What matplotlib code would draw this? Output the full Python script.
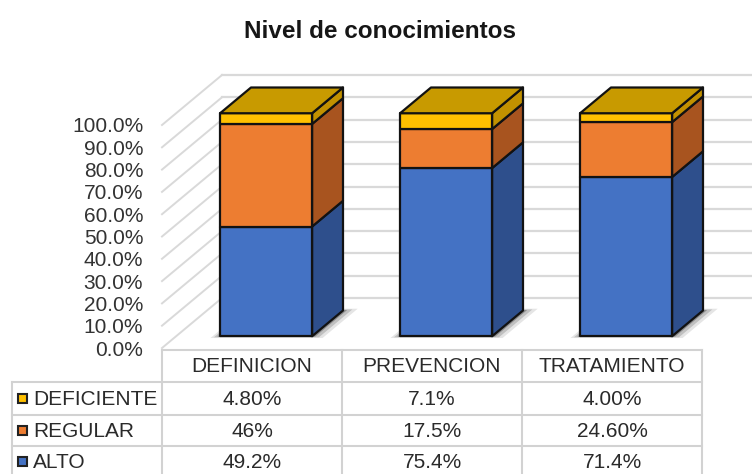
import matplotlib
matplotlib.use("Agg")
import matplotlib.pyplot as plt
from matplotlib.patches import Polygon, Rectangle
from matplotlib.lines import Line2D
from matplotlib.transforms import Affine2D

# ---------------- data ----------------
categories = ["DEFINICION", "PREVENCION", "TRATAMIENTO"]
alto = [49.2, 75.4, 71.4]
regular = [46.0, 17.5, 24.6]
deficiente = [4.8, 7.1, 4.0]
alto_labels = ["49.2%", "75.4%", "71.4%"]
regular_labels = ["46%", "17.5%", "24.60%"]
deficiente_labels = ["4.80%", "7.1%", "4.00%"]
y_ticks = [0, 10, 20, 30, 40, 50, 60, 70, 80, 90, 100]
y_tick_labels = ["0.0%", "10.0%", "20.0%", "30.0%", "40.0%", "50.0%",
                 "60.0%", "70.0%", "80.0%", "90.0%", "100.0%"]
title = "Nivel de conocimientos"

# ---------------- style ----------------
plt.rcParams['font.family'] = ['Liberation Sans', 'DejaVu Sans']
W, H = 752, 474
fig = plt.figure(figsize=(W / 100, H / 100), dpi=100)
fig.patch.set_facecolor("white")

FRONT = {"ALTO": "#4472C4", "REGULAR": "#ED7D31", "DEFICIENTE": "#FFC000"}
SIDE = {"ALTO": "#2E4F8C", "REGULAR": "#A8541F", "DEFICIENTE": "#C29100"}
TOP = {"ALTO": "#3A62A8", "REGULAR": "#C8662A", "DEFICIENTE": "#C89A00"}
EDGE = "#121212"
GRID = "#D9D9D9"
TXT = "#2A2A2A"
FS = 15

# front plane of the plot area (pixels)
L, R, T, B = 162, 702, 125, 348
ax = fig.add_axes([L / W, 1 - B / H, (R - L) / W, (B - T) / H])
ax.set_xlim(-0.5, 2.5)
ax.set_ylim(0, 100)
ax.patch.set_visible(False)
for s in ax.spines.values():
    s.set_visible(False)
ax.set_xticks([])
ax.set_yticks(y_ticks, y_tick_labels)
ax.tick_params(axis='y', length=0, pad=13.5, labelsize=FS, labelcolor="#333333")

# oblique depth vector (data units): full depth = 60 px right, 50 px up
px_per_cat = (R - L) / 3.0
px_per_pct = (B - T) / 100.0
DX = 60 / px_per_cat
DY = 50 / px_per_pct
Z0, Z1 = 0.235, 0.75
BW = 92 / px_per_cat


def proj(x, v, z):
    return (x + z * DX, v + z * DY)


# back wall gridlines and left wall diagonals
for t in y_ticks:
    p0 = proj(-0.5, t, 1)
    p1 = proj(2.6, t, 1)
    ax.add_line(Line2D([p0[0], p1[0]], [p0[1], p1[1]], color=GRID, lw=1.6,
                       clip_on=False, zorder=1))
    q0 = proj(-0.5, t, 0)
    ax.add_line(Line2D([q0[0], p0[0]], [q0[1], p0[1]], color=GRID, lw=1.4,
                       clip_on=False, zorder=1))

# shadows
for i in range(len(categories)):
    for ex, ez, a in [(0.07, 0.12, 0.10), (0.045, 0.07, 0.16), (0.02, 0.03, 0.28)]:
        xl, xr = i - BW / 2 - ex * 0.6, i + BW / 2 + ex
        za, zb = Z0 - ez * 0.3, Z1 + ez * 0.3
        pts = [proj(xl, 0, za), proj(xr, 0, za), proj(xr, 0, zb), proj(xl, 0, zb)]
        ax.add_patch(Polygon(pts, closed=True, facecolor="black", alpha=a,
                             edgecolor="none", clip_on=False, zorder=2))

# bars
for i in range(len(categories)):
    segs = [("ALTO", 0, alto[i]),
            ("REGULAR", alto[i], alto[i] + regular[i]),
            ("DEFICIENTE", alto[i] + regular[i], alto[i] + regular[i] + deficiente[i])]
    xl, xr = i - BW / 2, i + BW / 2
    for name, v0, v1 in segs:
        front = [proj(xl, v0, Z0), proj(xr, v0, Z0), proj(xr, v1, Z0), proj(xl, v1, Z0)]
        side = [proj(xr, v0, Z0), proj(xr, v0, Z1), proj(xr, v1, Z1), proj(xr, v1, Z0)]
        ax.add_patch(Polygon(side, closed=True, facecolor=SIDE[name], edgecolor=EDGE,
                             lw=1.6, joinstyle="round", clip_on=False, zorder=3))
        ax.add_patch(Polygon(front, closed=True, facecolor=FRONT[name], edgecolor=EDGE,
                             lw=1.6, joinstyle="round", clip_on=False, zorder=3))
    name, v0, v1 = segs[-1]
    top = [proj(xl, v1, Z0), proj(xr, v1, Z0), proj(xr, v1, Z1), proj(xl, v1, Z1)]
    ax.add_patch(Polygon(top, closed=True, facecolor=TOP[name], edgecolor=EDGE,
                         lw=1.6, joinstyle="round", clip_on=False, zorder=4))

# title
fig.text(380 / W, 1 - 31 / H, title, ha="center", va="center", fontsize=17.5,
         fontweight="bold", color="#161616")

# ---------------- data table ----------------
pixT = Affine2D().scale(1 / W, -1 / H).translate(0, 1) + fig.transFigure
col_edges = [L + k * (R - L) / 3.0 for k in range(4)]
row_edges = [350, 382, 415, 446, 478]
LBL_X = 12
LC = "#D2D2D2"
lines = []
lines.append(([col_edges[0], col_edges[-1]], [row_edges[0], row_edges[0]]))
for y in row_edges[1:4]:
    lines.append(([LBL_X, col_edges[-1]], [y, y]))
for x in col_edges:
    lines.append(([x, x], [row_edges[0], row_edges[-1]]))
lines.append(([LBL_X, LBL_X], [row_edges[1], row_edges[-1]]))
for xs, ys in lines:
    fig.add_artist(Line2D(xs, ys, transform=pixT, color=LC, lw=1.5))

for j, cat in enumerate(categories):
    cx = (col_edges[j] + col_edges[j + 1]) / 2
    fig.text(cx, (row_edges[0] + row_edges[1]) / 2 + 1, cat, transform=pixT,
             ha="center", va="center", fontsize=FS, color=TXT)

rows = [("DEFICIENTE", deficiente_labels), ("REGULAR", regular_labels), ("ALTO", alto_labels)]
for r, (name, labs) in enumerate(rows):
    yc = (row_edges[r + 1] + row_edges[r + 2]) / 2
    if r == 2:
        yc = row_edges[3] + 16
    fig.add_artist(Rectangle((18, yc - 4.5), 9, 9, transform=pixT, facecolor=FRONT[name],
                             edgecolor="#222222", lw=1.5))
    fig.text(33, yc + 1, name, transform=pixT, ha="left", va="center",
             fontsize=FS, color=TXT)
    for j, lab in enumerate(labs):
        cx = (col_edges[j] + col_edges[j + 1]) / 2
        fig.text(cx, yc + 1, lab, transform=pixT, ha="center", va="center",
                 fontsize=FS, color=TXT)

fig.savefig("out.png", dpi=100, facecolor="white")
